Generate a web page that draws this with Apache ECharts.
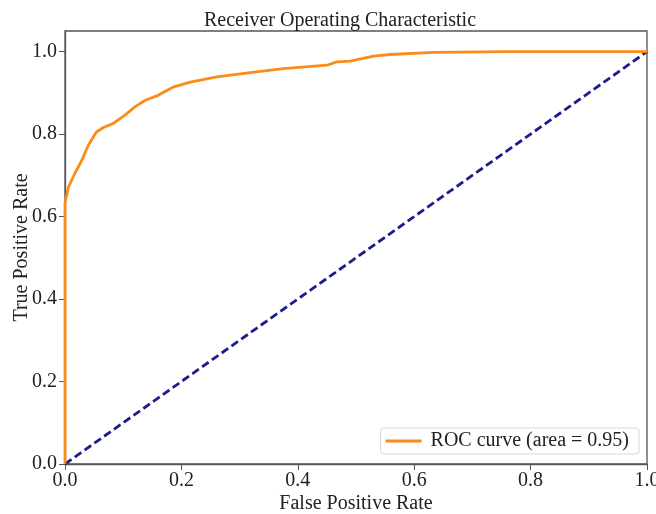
<!DOCTYPE html>
<html>
<head>
<meta charset="utf-8">
<script src="https://cdn.jsdelivr.net/npm/echarts@6/dist/echarts.min.js"></script>
<style>html,body{margin:0;padding:0;background:#fff;overflow:hidden}#c{width:656px;height:514px}</style>
</head>
<body>
<div id="c"></div>
<script>
const rocFpr = [0, 0, 0.006, 0.017, 0.029, 0.040, 0.054, 0.066, 0.083, 0.103, 0.120, 0.138, 0.160, 0.186, 0.215, 0.261, 0.318, 0.375, 0.450, 0.467, 0.490, 0.530, 0.559, 0.633, 0.759, 0.85, 1.0];
const rocTpr = [0, 0.633, 0.672, 0.705, 0.737, 0.773, 0.805, 0.816, 0.826, 0.846, 0.866, 0.882, 0.894, 0.914, 0.926, 0.939, 0.949, 0.959, 0.967, 0.975, 0.977, 0.989, 0.993, 0.998, 1.0, 1.0, 1.0];
const diagX = [0, 1];
const diagY = [0, 1];
const xTicks = [0, 0.2, 0.4, 0.6, 0.8, 1.0];
const yTicks = [0, 0.2, 0.4, 0.6, 0.8, 1.0];
const titleText = 'Receiver Operating Characteristic';
const xName = 'False Positive Rate';
const yName = 'True Positive Rate';
const legendName = 'ROC curve (area = 0.95)';

const font = 'Liberation Serif';
const chart = echarts.init(document.getElementById('c'), null, {renderer: 'canvas'});
const axisCommon = {
  type: 'value',
  splitLine: {show: false},
  axisLine: {show: true, lineStyle: {color: '#555', width: 1.3}},
  axisTick: {show: true, length: 6, lineStyle: {color: '#555', width: 1}},
  axisLabel: {fontFamily: font, fontSize: 20, color: '#222', formatter: v => v.toFixed(1)},
  nameTextStyle: {fontFamily: font, fontSize: 20, color: '#222'},
  nameLocation: 'middle',
  nameMoveOverlap: false
};
chart.setOption({
  animation: false,
  title: {
    text: titleText, left: 335, top: 6, textAlign: 'center',
    textStyle: {fontFamily: font, fontSize: 20, fontWeight: 'normal', color: '#222'}
  },
  grid: {left: 65, right: 9, top: 31, bottom: 50, show: true, borderColor: '#555', borderWidth: 1.3,
         containLabel: false, outerBoundsMode: 'none'},
  xAxis: Object.assign({}, axisCommon, {
    min: 0, max: 1, interval: 0.2, name: xName, nameGap: 30,
    axisTick: Object.assign({}, axisCommon.axisTick, {customValues: xTicks}),
    axisLabel: Object.assign({}, axisCommon.axisLabel, {customValues: xTicks, margin: 7})
  }),
  yAxis: Object.assign({}, axisCommon, {
    min: 0, max: 1.05, interval: 0.2, name: yName, nameGap: 33,
    axisTick: Object.assign({}, axisCommon.axisTick, {customValues: yTicks}),
    axisLabel: Object.assign({}, axisCommon.axisLabel, {customValues: yTicks, margin: 8})
  }),
  legend: {
    data: [{name: legendName, icon: 'rect'}],
    right: 17, bottom: 60, itemWidth: 36, itemHeight: 3, itemGap: 8,
    padding: [3, 10, 3, 5], borderColor: '#d8d8d8', borderWidth: 1, borderRadius: 3,
    backgroundColor: 'rgba(255,255,255,0.85)',
    textStyle: {fontFamily: font, fontSize: 20, color: '#222', padding: [0, 0, 0, 4]}
  },
  series: [
    {
      name: legendName, type: 'line', symbol: 'none', smooth: false,
      lineStyle: {color: '#fb8c1a', width: 2.8}, itemStyle: {color: '#fb8c1a'},
      data: rocFpr.map((x, i) => [x, rocTpr[i]]), z: 3
    },
    {
      name: 'diag', type: 'line', symbol: 'none',
      lineStyle: {color: '#1c1c8c', width: 2.8, type: [8, 4]},
      data: diagX.map((x, i) => [x, diagY[i]]), z: 2
    }
  ]
});
</script>
</body>
</html>
